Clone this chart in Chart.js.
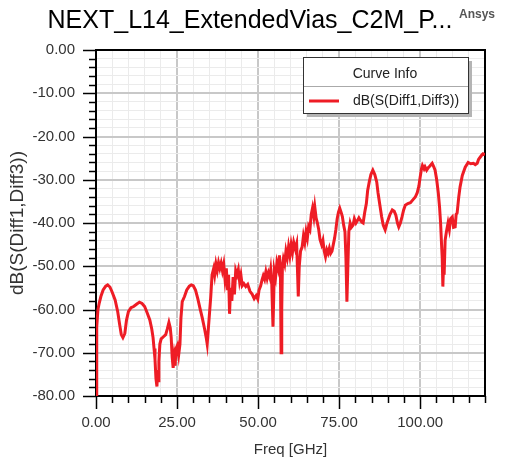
<!DOCTYPE html>
<html>
<head>
<meta charset="utf-8">
<script src="https://cdn.jsdelivr.net/npm/chart.js@4"></script>
<style>
  html, body { margin: 0; padding: 0; background: #fff; }
</style>
</head>
<body>
<canvas id="nextChart" width="512" height="461"></canvas>
<script>
const chartTitle = "NEXT_L14_ExtendedVias_C2M_P...";
const seriesName = "dB(S(Diff1,Diff3))";
const legendHeader = "Curve Info";
const xAxisTitle = "Freq [GHz]";
const yAxisTitle = "dB(S(Diff1,Diff3))";
const xMajorTicks = [0, 25, 50, 75, 100];
const yMajorTicks = [0, -10, -20, -30, -40, -50, -60, -70, -80];

const freqGHz = [
  0, 0.15, 0.3, 0.6, 1.0, 1.5, 2.2, 3.0, 3.6, 4.3, 5.0, 5.9, 6.7, 7.3, 7.8, 8.3, 8.9, 9.4,
  10.0, 10.8, 11.6, 12.5, 13.4, 14.2, 15.0, 15.8, 16.6, 17.2, 17.6, 17.9, 18.2, 18.5, 18.8,
  19.0, 19.2, 19.4, 19.7, 20.1, 20.8, 21.5, 22.0, 22.5, 22.9, 23.2, 23.5, 23.8, 24.1, 24.4,
  24.7, 25.1, 25.5, 25.9, 26.2, 26.6, 27.3, 28.0, 28.8, 29.4, 30.0, 30.7, 31.4, 32.1, 32.8,
  33.5, 34.0, 34.3, 34.6, 35.0, 35.4, 35.8, 36.3, 36.6, 37.0, 37.4, 37.8, 38.2, 38.6, 39.0,
  39.4, 39.8, 40.2, 40.6, 40.9, 41.2, 41.5, 41.9, 42.3, 42.7, 43.1, 43.5, 43.9, 44.3, 44.7,
  45.1, 45.6, 46.2, 46.8, 47.5, 48.2, 48.8, 49.4, 49.9, 50.3, 50.8, 51.2, 51.6, 52.0, 52.4,
  52.8, 53.2, 53.6, 53.9, 54.2, 54.4, 54.6, 54.8, 55.0, 55.4, 55.8, 56.2, 56.6, 56.9, 57.1,
  57.3, 57.5, 57.8, 58.2, 58.6, 59.0, 59.4, 59.8, 60.2, 60.6, 61.0, 61.5, 61.9, 62.2, 62.4,
  62.7, 63.1, 63.6, 64.0, 64.4, 64.8, 65.2, 65.6, 66.0, 66.4, 66.8, 67.2, 67.5, 67.9, 68.3,
  68.7, 69.1, 69.6, 70.0, 70.4, 70.8, 71.2, 71.6, 72.0, 72.4, 72.8, 73.2, 73.6, 74.0, 74.4,
  74.8, 75.2, 75.6, 76.0, 76.4, 76.8, 77.1, 77.4, 77.7, 78.0, 78.4, 78.8, 79.3, 79.7, 80.2,
  80.6, 81.1, 81.5, 82.0, 82.4, 82.9, 83.4, 83.8, 84.3, 84.8, 85.4, 86.0, 86.6, 87.0, 87.6,
  88.1, 88.6, 89.2, 89.7, 90.1, 90.7, 91.4, 92.0, 92.5, 93.0, 93.4, 93.9, 94.4, 94.9, 95.4,
  96.2, 97.0, 97.8, 98.5, 99.1, 99.6, 100.0, 100.4, 100.7, 101.2, 101.5, 102.0, 102.5, 103.0,
  103.7, 104.2, 104.6, 105.1, 105.6, 106.0, 106.3, 106.6, 106.8, 107.0, 107.2, 107.4, 107.7,
  108.1, 108.6, 109.0, 109.4, 109.9, 110.3, 110.8, 111.1, 111.4, 111.9, 112.3, 113.0, 113.9,
  114.8, 115.6, 116.4, 117.0, 117.6, 118.0, 118.5, 119.0, 119.4, 120.0
];

const dBValues = [
  -80, -70, -64, -60, -58.5, -57, -55.5, -54.6, -54.3, -54.8, -56, -57.8, -60.5, -63.5, -65.8, -66.5, -65.5, -62.5,
  -60.5, -59.6, -59.3, -58.8, -58.3, -58.6, -59.3, -60.8, -62.4, -64.5, -66.5, -69, -71.5, -76, -77.8,
  -74, -76.5, -72, -68, -66.8, -66.3, -65.8, -64.5, -63, -64.2, -66.5, -71, -73.5, -71, -73,
  -69, -68.3, -70.5, -68, -62, -58.2, -57, -55.5, -54.6, -54.3, -54.5, -55.5, -57.5, -59.8, -62,
  -64.5, -66.5, -68, -65, -61, -57, -52, -50.5, -52, -49.5, -51, -49.2, -50.5, -49.3, -51,
  -49.5, -53, -50.5, -55.5, -52, -61, -55, -58, -52.5, -56.5, -51, -52, -50.8, -53.5, -52,
  -54.5, -54, -54.7, -54.2, -55.8, -56.5, -57.5, -56.8, -57.6, -55.5, -54.5, -53.2, -52.2, -53, -51.3,
  -52.8, -51.5, -52.5, -50.8, -53.5, -59, -64, -58, -51, -52.5, -49.2, -50.5, -47.5, -52, -70,
  -60, -50, -48.3, -49.5, -46.5, -48, -45.5, -47.5, -45, -46.8, -44.5, -46, -44.8, -52, -57,
  -50, -46.5, -45.5, -43, -44.5, -42, -43.5, -40.8, -41.5, -38, -36.5, -38.5, -36.3, -38.8, -40,
  -41.5, -43.8, -45, -44, -46.5, -47.8, -46.2, -47, -45.8, -47, -46.5, -45, -43.5, -41.5, -39,
  -37.5, -36.6, -37.5, -38.5, -40.5, -42, -48, -58.2, -50, -42, -40, -41, -40.5, -39, -40,
  -39.5, -38.8, -39.3, -39.8, -40, -37.5, -35.5, -32.5, -30.5, -28.8, -27.8, -28.8, -30.5, -33, -36,
  -38.5, -40.5, -41.6, -40.2, -39.3, -38, -37, -37.3, -38.2, -40, -40.9, -40, -38.6, -37, -35.9,
  -35.5, -35.3, -34.6, -34, -33, -31.5, -29.4, -27.5, -26.7, -27.5, -27, -27.8, -27.2, -26.8,
  -26.2, -27, -27.8, -30, -33.1, -36.5, -40, -45, -48, -54.7, -50, -52, -44,
  -42, -40, -41.5, -39, -38.6, -41, -40.9, -38, -37.7, -34, -31.7, -29, -27.1,
  -26, -26.3, -26.2, -26.5, -26.2, -25.3, -24.8, -24.3, -24, -24.2
];

const fontFamily = "'Liberation Sans', Arial, sans-serif";
const curveColor = "#ee1c25";

// frame, tick marks, title, "Ansys" tag and the Curve Info box
const hfssFrame = {
  id: "hfssFrame",
  beforeDatasetsDraw(chart) {
    const ctx = chart.ctx;
    const a = chart.chartArea;
    const xs = chart.scales.x;
    const ys = chart.scales.y;
    ctx.save();
    ctx.strokeStyle = "#000";
    ctx.lineWidth = 1.5;
    // y ticks
    for (let v = 0; v >= -80; v -= 2) {
      const py = Math.round(ys.getPixelForValue(v)) + 0.5;
      const len = v % 10 === 0 ? 13 : 7;
      ctx.beginPath();
      ctx.moveTo(a.left - len, py);
      ctx.lineTo(a.left, py);
      ctx.stroke();
    }
    // x ticks
    for (let v = 0; v <= 120; v += 5) {
      const px = Math.round(xs.getPixelForValue(v)) + 0.5;
      const len = v % 25 === 0 ? 13 : 7;
      ctx.beginPath();
      ctx.moveTo(px, a.bottom);
      ctx.lineTo(px, a.bottom + len);
      ctx.stroke();
    }
    ctx.lineWidth = 2;
    ctx.strokeRect(a.left, a.top, a.right - a.left, a.bottom - a.top);
    ctx.restore();
  },
  afterDatasetsDraw(chart) {
    const ctx = chart.ctx;
    ctx.save();
    // title
    ctx.fillStyle = "#000";
    ctx.font = "25px " + fontFamily;
    ctx.textAlign = "center";
    ctx.textBaseline = "middle";
    ctx.fillText(chartTitle, 250, 21);
    ctx.fillStyle = "#555";
    ctx.font = "bold 12px " + fontFamily;
    ctx.textAlign = "left";
    ctx.fillText("Ansys", 459, 15);

    // legend box
    const bx = 303, by = 57, bw = 165, bh = 56;
    ctx.fillStyle = "#b4b4b4";
    ctx.fillRect(bx + 4, by + 4, bw, bh);
    ctx.fillStyle = "#fff";
    ctx.fillRect(bx, by, bw, bh);
    ctx.strokeStyle = "#333";
    ctx.lineWidth = 1;
    ctx.strokeRect(bx + 0.5, by + 0.5, bw, bh);
    ctx.strokeStyle = "#aaa";
    ctx.beginPath();
    ctx.moveTo(bx + 1, by + 29.5);
    ctx.lineTo(bx + bw, by + 29.5);
    ctx.stroke();
    ctx.fillStyle = "#222";
    ctx.font = "14px " + fontFamily;
    ctx.textAlign = "center";
    ctx.fillText(legendHeader, bx + 82, by + 17);
    ctx.strokeStyle = curveColor;
    ctx.lineWidth = 3;
    ctx.beginPath();
    ctx.moveTo(bx + 6, by + 44);
    ctx.lineTo(bx + 36, by + 44);
    ctx.stroke();
    ctx.textAlign = "left";
    ctx.fillText(seriesName, bx + 50, by + 44);
    ctx.restore();
  }
};

const ctx = document.getElementById("nextChart");
const chart = new Chart(ctx, {
  type: "line",
  data: {
    datasets: [{
      label: seriesName,
      data: freqGHz.map((f, i) => ({ x: f, y: dBValues[i] })),
      borderColor: curveColor,
      borderWidth: 3,
      pointRadius: 0,
      tension: 0,
      fill: false
    }]
  },
  options: {
    responsive: false,
    animation: false,
    devicePixelRatio: 1,
    layout: { padding: { top: 50, right: 27, bottom: 0, left: 0 } },
    plugins: {
      legend: { display: false },
      tooltip: { enabled: false }
    },
    scales: {
      x: {
        type: "linear",
        min: 0,
        max: 120,
        afterFit: (scale) => { scale.height = 65; },
        border: { display: false },
        grid: {
          drawTicks: false,
          color: (c) => (c.tick.value % 25 === 0 ? "#c8c8c8" : "#ebebeb"),
          lineWidth: (c) => (c.tick.value % 25 === 0 ? 2 : 1)
        },
        ticks: {
          stepSize: 5,
          autoSkip: false,
          maxRotation: 0,
          padding: 18,
          color: "#333",
          font: { family: fontFamily, size: 15 },
          callback: (v) => (xMajorTicks.includes(v) ? v.toFixed(2) : "")
        },
        title: {
          display: true,
          text: xAxisTitle,
          color: "#333",
          font: { family: fontFamily, size: 15 },
          padding: { top: 0, bottom: 2 }
        }
      },
      y: {
        min: -80,
        max: 0,
        afterFit: (scale) => { scale.width = 96; },
        border: { display: false },
        grid: {
          drawTicks: false,
          color: (c) => (c.tick.value % 10 === 0 ? "#c8c8c8" : "#ebebeb"),
          lineWidth: (c) => (c.tick.value % 10 === 0 ? 2 : 1)
        },
        ticks: {
          stepSize: 2,
          autoSkip: false,
          padding: 21,
          color: "#333",
          font: { family: fontFamily, size: 15 },
          callback: (v) => (yMajorTicks.includes(v) ? v.toFixed(2) : "")
        },
        title: {
          display: true,
          text: yAxisTitle,
          color: "#333",
          font: { family: fontFamily, size: 19 },
          padding: { top: 6, bottom: 0 }
        }
      }
    }
  },
  plugins: [hfssFrame]
});
</script>
</body>
</html>
